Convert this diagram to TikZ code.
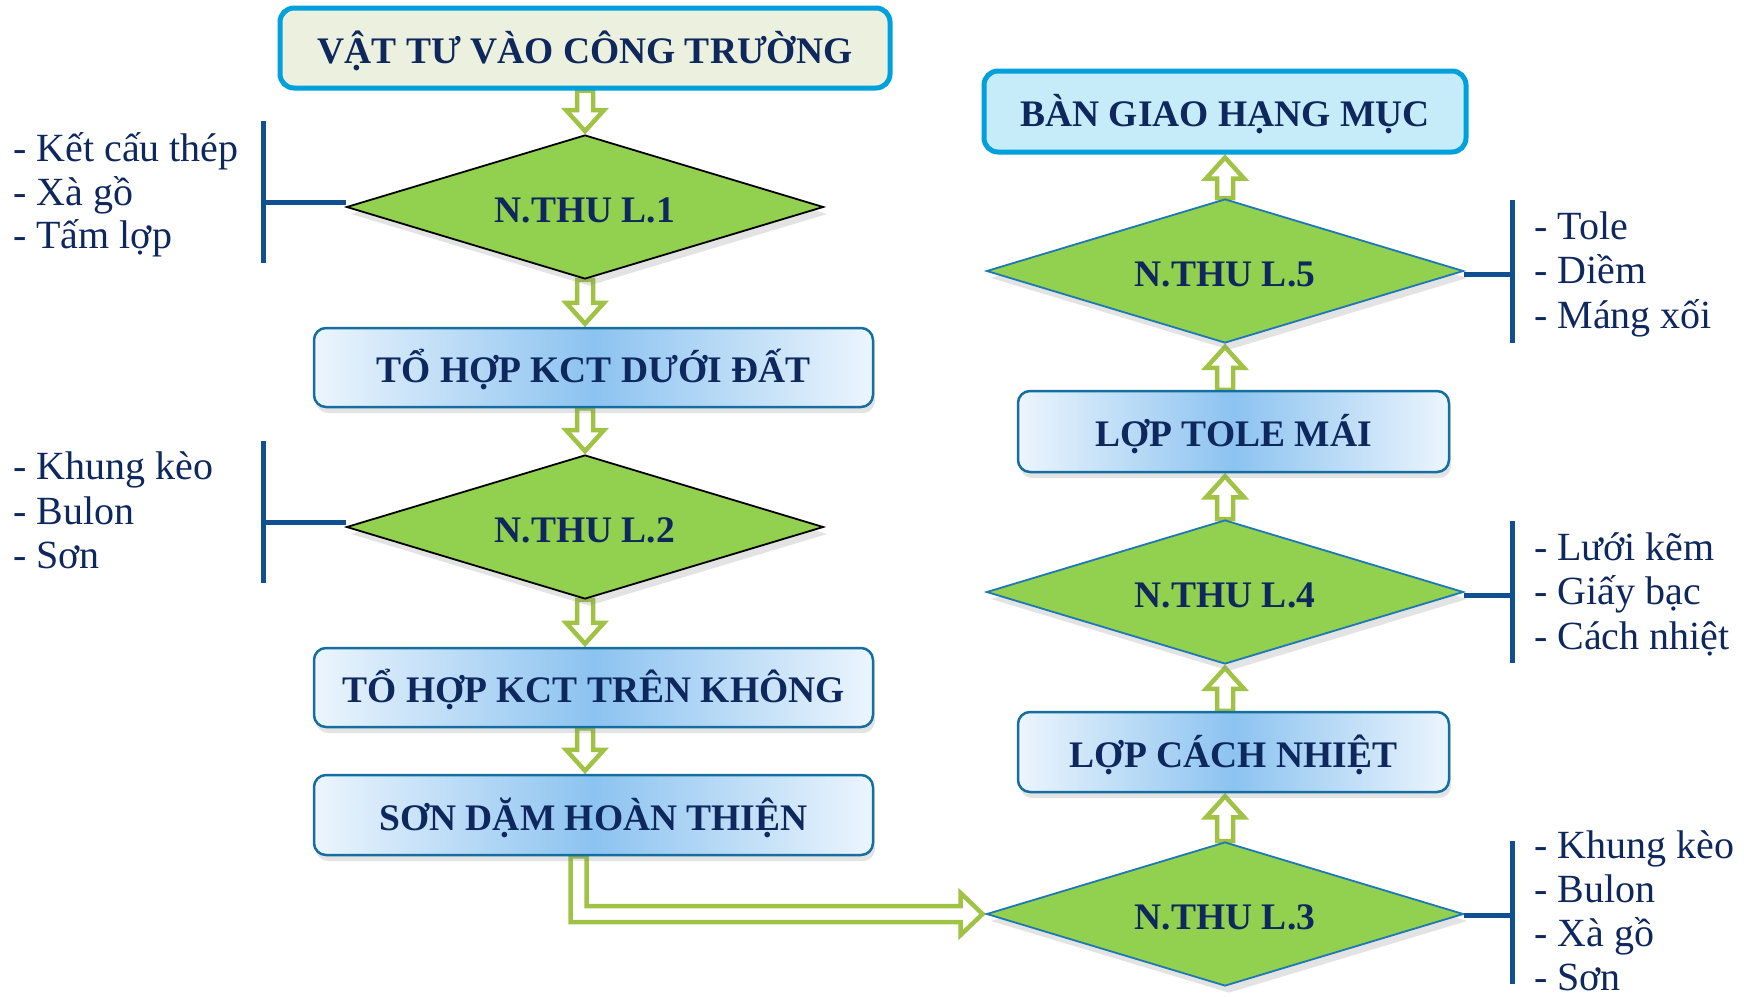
\documentclass[tikz,border=0pt]{standalone}
\usepackage{fontspec}
\setmainfont{Liberation Serif}
\usetikzlibrary{shapes.geometric,shadows,calc}
\definecolor{navy}{RGB}{14,40,94}
\definecolor{cyanb}{RGB}{0,160,220}
\definecolor{cream}{RGB}{235,241,222}
\definecolor{lightcyan}{RGB}{198,236,250}
\definecolor{boxedge}{RGB}{20,110,160}
\definecolor{gedge}{RGB}{236,245,253}
\definecolor{gmid}{RGB}{140,195,240}
\definecolor{dgreen}{RGB}{146,208,80}
\definecolor{dblue}{RGB}{30,120,180}
\definecolor{bracketc}{RGB}{16,80,145}
\definecolor{agreen}{RGB}{160,195,70}
\pgfdeclarelayer{bg}
\pgfsetlayers{bg,main}
\newcommand\arrdown[2]{%
  \draw[hollow] let \p1=(#1), \p2=(#2) in
    (\x1-8pt,\y1) -- (\x1-8pt,\y2+24pt) -- (\x1-19pt,\y2+24pt) -- (\x1,\y2+3pt)
    -- (\x1+19pt,\y2+24pt) -- (\x1+8pt,\y2+24pt) -- (\x1+8pt,\y1) -- cycle;}
\newcommand\arrup[2]{%
  \draw[hollow] let \p1=(#1), \p2=(#2) in
    (\x1-8pt,\y1) -- (\x1-8pt,\y2-24pt) -- (\x1-19pt,\y2-24pt) -- (\x1,\y2-3pt)
    -- (\x1+19pt,\y2-24pt) -- (\x1+8pt,\y2-24pt) -- (\x1+8pt,\y1) -- cycle;}
\begin{document}
\begin{tikzpicture}[x=1pt,y=-1pt,
  boxtxt/.style={font=\fontsize{37.5}{40}\selectfont\bfseries, text=navy,
    text height=30pt, text depth=0pt, inner sep=0pt, align=center},
  gbox/.style={boxtxt, rectangle, rounded corners=12pt, draw=boxedge, line width=2.5pt,
    left color=gedge, right color=gedge, middle color=gmid,
    drop shadow={shadow xshift=2pt, shadow yshift=-6pt, opacity=0.22}},
  endbox/.style={boxtxt, rectangle, rounded corners=14pt, draw=cyanb, line width=5pt},
  diam/.style={boxtxt, diamond, aspect=3.36, fill=dgreen, line width=1.8pt,
    minimum width=477pt, minimum height=144pt,
    drop shadow={shadow xshift=4pt, shadow yshift=-7pt, opacity=0.22}},
  side/.style={font=\fontsize{40}{44}\selectfont, text=navy, anchor=base west, inner sep=0pt},
  bracket/.style={draw=bracketc, line width=5pt},
  hollow/.style={draw=agreen, fill=white, line width=4.5pt, line join=miter}]
\useasboundingbox (0,0) rectangle (1744,996);
% left column
\node[endbox, fill=cream, minimum width=610pt, minimum height=80pt] (TB) at (585,48) {VẬT TƯ VÀO CÔNG TRƯỜNG};
\node[diam, draw=black] (D1) at (585,207) {N.THU L.1};
\node[gbox, minimum width=559pt, minimum height=79pt] (B1) at (593.5,367.5) {TỔ HỢP KCT DƯỚI ĐẤT};
\node[diam, draw=black] (D2) at (585,527) {N.THU L.2};
\node[gbox, minimum width=559pt, minimum height=79pt] (B2) at (593.5,687.5) {TỔ HỢP KCT TRÊN KHÔNG};
\node[gbox, minimum width=559pt, minimum height=80pt] (B3) at (593.5,815) {SƠN DẶM HOÀN THIỆN};
% right column
\node[endbox, fill=lightcyan, minimum width=482pt, minimum height=81pt] (BG) at (1225,111.5) {BÀN GIAO HẠNG MỤC};
\node[diam, draw=dblue] (D5) at (1225,271) {N.THU L.5};
\node[gbox, minimum width=431pt, minimum height=81pt] (B5) at (1233.5,431.5) {LỢP TOLE MÁI};
\node[diam, draw=dblue] (D4) at (1225,592) {N.THU L.4};
\node[gbox, minimum width=431pt, minimum height=80pt] (B4) at (1233.5,752) {LỢP CÁCH NHIỆT};
\node[diam, draw=dblue] (D3) at (1225,914) {N.THU L.3};
% arrows
\begin{pgfonlayer}{bg}
\arrdown{TB.south}{D1.north}
\arrdown{D1.south}{D1.south |- B1.north}
\arrdown{D2.north |- B1.south}{D2.north}
\arrdown{D2.south}{D2.south |- B2.north}
\arrdown{D2.south |- B2.south}{D2.south |- B3.north}
\arrup{D3.north}{D3.north |- B4.south}
\arrup{D4.south |- B4.north}{D4.south}
\arrup{D4.north}{D4.north |- B5.south}
\arrup{D5.south |- B5.north}{D5.south}
\arrup{D5.north}{BG.south}
\draw[hollow] let \p1=([xshift=-15pt]B3.south), \p2=(D3.west) in
  (\x1-8pt,\y1) -- (\x1-8pt,\y2-8pt) -- (\x2-25pt,\y2-8pt) -- (\x2-25pt,\y2-21pt)
  -- (\x2-3pt,\y2) -- (\x2-25pt,\y2+21pt) -- (\x2-25pt,\y2+8pt) -- (\x1+8pt,\y2+8pt)
  -- (\x1+8pt,\y1) -- cycle;
\end{pgfonlayer}
% brackets
\coordinate (k1t) at (263,121); \coordinate (k1b) at (263,263);
\coordinate (k2t) at (263,441); \coordinate (k2b) at (263,583);
\coordinate (k5t) at (1512,200); \coordinate (k5b) at (1512,343);
\coordinate (k4t) at (1512,521); \coordinate (k4b) at (1512,663);
\coordinate (k3t) at (1512,841); \coordinate (k3b) at (1512,984);
\draw[bracket] (k1t) -- (k1b);
\draw[bracket] ([yshift=5pt]D1.west) -- ([yshift=5pt]D1.west -| k1t);
\draw[bracket] (k2t) -- (k2b);
\draw[bracket] ([yshift=5pt]D2.west) -- ([yshift=5pt]D2.west -| k2t);
\draw[bracket] (k5t) -- (k5b);
\draw[bracket] ([yshift=-3pt]D5.east) -- ([yshift=-3pt]D5.east -| k5t);
\draw[bracket] (k4t) -- (k4b);
\draw[bracket] ([yshift=-3pt]D4.east) -- ([yshift=-3pt]D4.east -| k4t);
\draw[bracket] (k3t) -- (k3b);
\draw[bracket] ([yshift=-1pt]D3.east) -- ([yshift=-1pt]D3.east -| k3t);
% side texts
\node[side] (a1) at (13,161) {- Kết cấu thép};
\node[side] (a2) at (13,205) {- Xà gồ};
\node[side] (a3) at (13,248) {- Tấm lợp};
\node[side] (b1) at (13,479) {- Khung kèo};
\node[side] (b2) at (13,524) {- Bulon};
\node[side] (b3) at (13,568) {- Sơn};
\node[side] (e1) at (1534,239) {- Tole};
\node[side] (e2) at (1534,283) {- Diềm};
\node[side] (e3) at (1534,328) {- Máng xối};
\node[side] (d1) at (1534,560) {- Lưới kẽm};
\node[side] (d2) at (1534,604) {- Giấy bạc};
\node[side] (d3) at (1534,649) {- Cách nhiệt};
\node[side] (c1) at (1534,858) {- Khung kèo};
\node[side] (c2) at (1534,902) {- Bulon};
\node[side] (c3) at (1534,946) {- Xà gồ};
\node[side] (c4) at (1534,990) {- Sơn};
\end{tikzpicture}
\end{document}
